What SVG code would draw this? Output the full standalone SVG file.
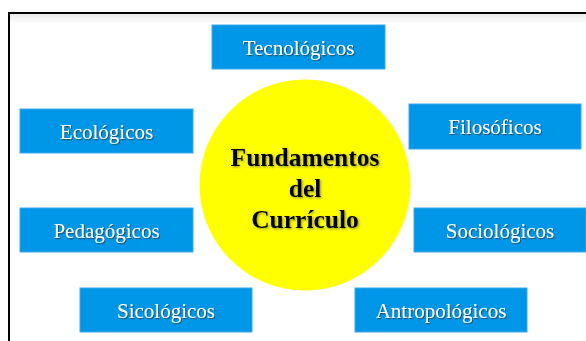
<svg xmlns="http://www.w3.org/2000/svg" width="586" height="341" viewBox="0 0 586 341">
  <defs>
    <style>
      .box rect { fill: #0096e8; stroke: #3aa9ee; stroke-width: 1; }
      .box text { font-family: "Liberation Serif", "Times New Roman", serif; font-size: 21px; fill: #ffffff; text-anchor: middle; filter: url(#sh); }
      .center text { font-family: "Liberation Serif", "Times New Roman", serif; font-size: 25.5px; font-weight: bold; fill: #000000; text-anchor: middle; filter: url(#sh2); }
    </style>
    <filter id="sh" x="-10%" y="-30%" width="130%" height="160%">
      <feDropShadow dx="1" dy="1.2" stdDeviation="0.7" flood-color="#333333" flood-opacity="0.7"/>
    </filter>
    <filter id="sh2" x="-10%" y="-30%" width="130%" height="160%">
      <feDropShadow dx="1.2" dy="1.2" stdDeviation="0.8" flood-color="#555555" flood-opacity="0.6"/>
    </filter>
    <linearGradient id="topshade" x1="0" y1="0" x2="0" y2="1">
      <stop offset="0" stop-color="#000" stop-opacity="0.08"/>
      <stop offset="1" stop-color="#000" stop-opacity="0"/>
    </linearGradient>
  </defs>
  <rect x="0" y="0" width="586" height="341" fill="#ffffff"/>
  <rect x="10" y="14" width="576" height="10" fill="url(#topshade)"/>
  <path d="M9,341 V13 H586" fill="none" stroke="#000000" stroke-width="2"/>

  <g id="connectors"></g>

  <g id="fundamentos" class="center">
    <circle cx="305" cy="185" r="105.5" fill="#ffff00"/>
    <text x="305" y="166">Fundamentos</text>
    <text x="305" y="197">del</text>
    <text x="305" y="228">Currículo</text>
  </g>

  <g id="tecnologicos" class="box">
    <rect x="212" y="25" width="173" height="44"/>
    <text x="298.5" y="54.5">Tecnológicos</text>
  </g>
  <g id="ecologicos" class="box">
    <rect x="20" y="109" width="173" height="44"/>
    <text x="106.5" y="138.5">Ecológicos</text>
  </g>
  <g id="filosoficos" class="box">
    <rect x="409" y="104" width="172" height="45"/>
    <text x="495" y="134">Filosóficos</text>
  </g>
  <g id="pedagogicos" class="box">
    <rect x="20" y="208" width="173" height="44"/>
    <text x="106.5" y="237.5">Pedagógicos</text>
  </g>
  <g id="sociologicos" class="box">
    <rect x="414" y="208" width="172" height="44"/>
    <text x="500" y="237.5">Sociológicos</text>
  </g>
  <g id="sicologicos" class="box">
    <rect x="80" y="288" width="172" height="44"/>
    <text x="166" y="317.5">Sicológicos</text>
  </g>
  <g id="antropologicos" class="box">
    <rect x="355" y="288" width="172" height="44"/>
    <text x="441" y="317.5">Antropológicos</text>
  </g>
</svg>
